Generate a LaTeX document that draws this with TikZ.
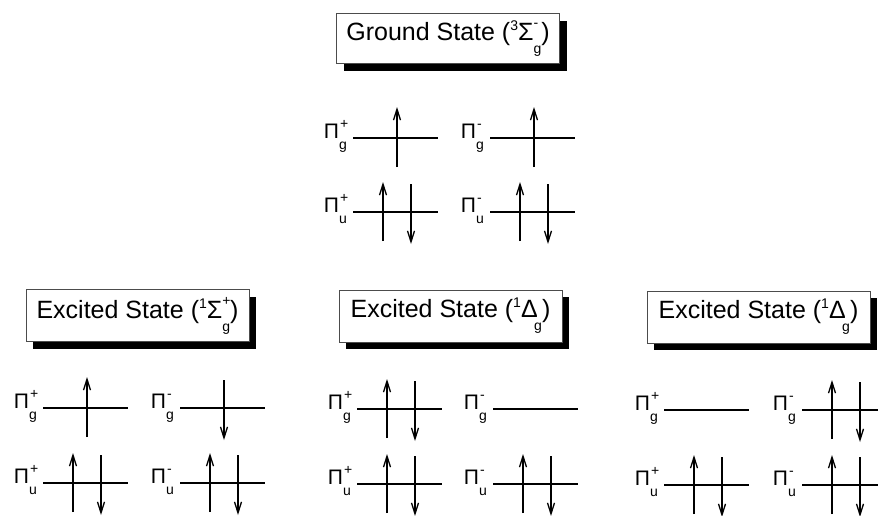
\documentclass[tikz,border=0pt]{standalone}
\usepackage{fontspec}
\setmainfont{Liberation Sans}
\usetikzlibrary{arrows.meta,shadows}
\newcommand\SmallF{\fontsize{14}{14}\selectfont}
\newcommand\PiL[2]{Π\raisebox{-11pt}{\SmallF\makebox[0pt][l]{\kern1pt\raisebox{21pt}{#1}}#2}}
\newcommand\TermS[4]{(\raisebox{10pt}{\SmallF #1}#2\raisebox{-13pt}{\SmallF\makebox[0pt][l]{\raisebox{26pt}{#4}}#3})}
\tikzset{
  statebox/.style={draw=black!70, line width=0.8pt, fill=white, minimum width=223pt,
    minimum height=52pt, inner sep=0pt, font=\fontsize{25}{25}\selectfont,
    drop shadow={shadow xshift=7pt, shadow yshift=-7pt, fill=black, opacity=1}},
  lvl/.style={line width=1.3pt},
  spin/.style={line width=1.3pt, -{Straight Barb[length=11pt,width=7pt,line width=1.3pt]}},
  lab/.style={anchor=base east, inner sep=0pt, font=\fontsize{21}{21}\selectfont},
}
% #1 name, #2 x of line start, #3 y, #4 sup, #5 sub, #6 config: 0 empty, 1 up, 2 down, 3 pair
\newcommand\orb[6]{%
  \coordinate (#1L) at (#2,#3);
  \coordinate (#1R) at (#2+85,#3);
  \draw[lvl] (#1L) -- (#1R);
  \node[lab] (#1lab) at (#2-6,#3) {\PiL{#4}{#5}};
  \ifcase#6\relax
  \or \draw[spin] ([shift={(44,29)}]#1L) -- ([shift={(44,-31)}]#1L);
  \or \draw[spin] ([shift={(44,-28)}]#1L) -- ([shift={(44,32)}]#1L);
  \or \draw[spin] ([shift={(30,29)}]#1L) -- ([shift={(30,-30)}]#1L);
      \draw[spin] ([shift={(58,-28)}]#1L) -- ([shift={(58,32)}]#1L);
  \fi
}
\begin{document}
\begin{tikzpicture}[x=1pt,y=-1pt]
\useasboundingbox (0,0) rectangle (878,515);
% Ground state
\node[statebox, minimum height=50pt] (gs) at (448,38.5) {Ground State \TermS{3}{Σ}{g}{-}};
\orb{gpg}{353}{138}{+}{g}{1}
\orb{gmg}{490}{138}{-}{g}{1}
\orb{gpu}{353}{212}{+}{u}{3}
\orb{gmu}{490}{212}{-}{u}{3}
% Excited state 1
\node[statebox] (e1) at (137.5,315.5) {Excited State \TermS{1}{Σ}{g}{+}};
\orb{apg}{43}{408}{+}{g}{1}
\orb{amg}{180}{408}{-}{g}{2}
\orb{apu}{43}{483}{+}{u}{3}
\orb{amu}{180}{483}{-}{u}{3}
% Excited state 2
\node[statebox] (e2) at (450.5,316) {Excited State \TermS{1}{Δ\kern-3.5pt}{g}{}};
\orb{bpg}{357}{409}{+}{g}{3}
\orb{bmg}{493}{409}{-}{g}{0}
\orb{bpu}{357}{484}{+}{u}{3}
\orb{bmu}{493}{484}{-}{u}{3}
% Excited state 3
\node[statebox] (e3) at (758.5,317) {Excited State \TermS{1}{Δ\kern-3.5pt}{g}{}};
\orb{cpg}{664}{410}{+}{g}{0}
\orb{cmg}{802}{410}{-}{g}{3}
\orb{cpu}{664}{485}{+}{u}{3}
\orb{cmu}{802}{485}{-}{u}{3}
\end{tikzpicture}
\end{document}
